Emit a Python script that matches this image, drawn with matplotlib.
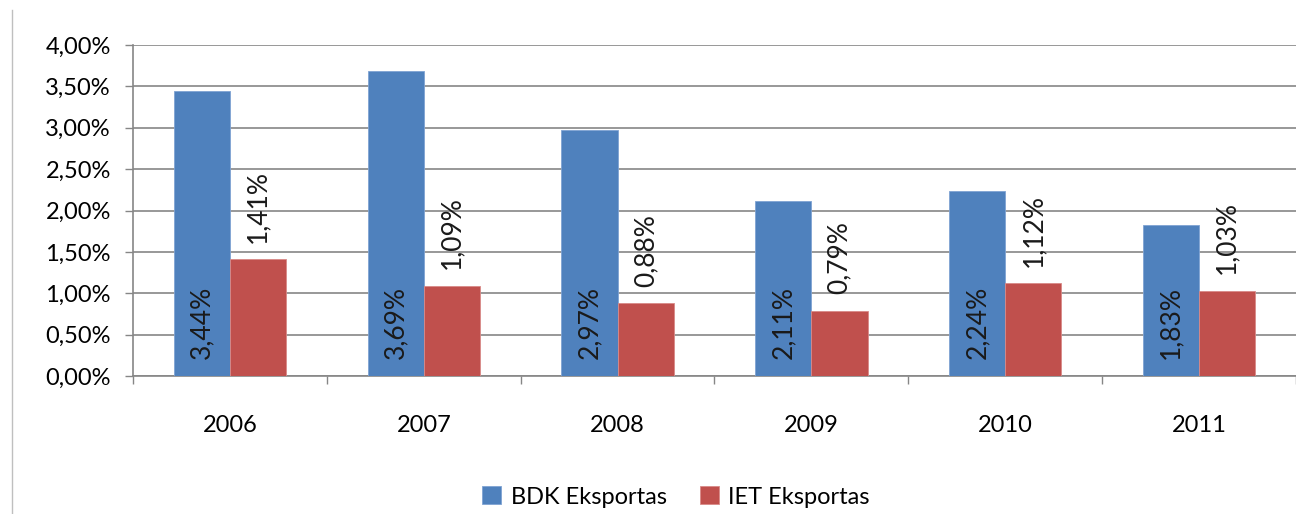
import numpy as np
import matplotlib
matplotlib.use("Agg")
from matplotlib import pyplot as plt
from matplotlib.lines import Line2D

years = ["2006", "2007", "2008", "2009", "2010", "2011"]
bdk = [3.44, 3.69, 2.97, 2.11, 2.24, 1.83]
iet = [1.41, 1.09, 0.88, 0.79, 1.12, 1.03]
series_names = ["BDK Eksportas", "IET Eksportas"]

plt.rcParams["font.family"] = ["Lato", "DejaVu Sans"]
fontsize = 17
label_size = 19
grey = "#868686"

fig = plt.figure(figsize=(12.96, 5.14), dpi=100)
ax = fig.add_axes([133 / 1296, 1 - 376 / 514, 1 - 133 / 1296, (376 - 45) / 514])

x = np.arange(len(years))
w = 0.29
b1 = ax.bar(x - w / 2, bdk, w, color="#4F81BD", edgecolor="#7FA3D3", linewidth=0.6,
            label=series_names[0], zorder=3)
b2 = ax.bar(x + w / 2, iet, w, color="#C0504D", edgecolor="#D98A88", linewidth=0.6,
            label=series_names[1], zorder=3)


def fmt(v):
    return f"{v:.2f}%".replace(".", ",")


for rect, v in zip(b1, bdk):
    ax.annotate(fmt(v), (rect.get_x() + rect.get_width() / 2, 0),
                xytext=(0, 12), textcoords="offset points",
                rotation=90, ha="center", va="bottom", fontsize=label_size, color="#1a1a1a")
for rect, v in zip(b2, iet):
    ax.annotate(fmt(v), (rect.get_x() + rect.get_width() / 2, v),
                xytext=(0, 12), textcoords="offset points",
                rotation=90, ha="center", va="bottom", fontsize=label_size, color="#1a1a1a")

ax.set_xlim(-0.5, len(years) - 0.5)
ax.set_ylim(0, 4)
yt = np.arange(0, 4.01, 0.5)
ax.set_yticks(yt)
ax.set_yticklabels([fmt(v) for v in yt], fontsize=fontsize)
ax.set_xticks(x)
ax.set_xticklabels(years, fontsize=fontsize)
ax.set_xticks(np.arange(-0.5, len(years), 1), minor=True)
ax.tick_params(axis="x", which="major", length=0, pad=28)
ax.tick_params(axis="x", which="minor", length=6, color=grey, width=1)
ax.tick_params(axis="y", length=6, color=grey, width=1, pad=10)

ax.yaxis.grid(True, color=grey, linewidth=1.2, zorder=0)
ax.set_axisbelow(True)
for s in ["top", "right"]:
    ax.spines[s].set_visible(False)
for s in ["left", "bottom"]:
    ax.spines[s].set_color(grey)
    ax.spines[s].set_linewidth(1.2)

fig.legend(handles=[b1, b2], labels=series_names, loc="center",
           bbox_to_anchor=(676 / 1296, 1 - 497 / 514), ncol=2, frameon=False,
           fontsize=fontsize, handlelength=0.8, handleheight=0.8,
           handletextpad=0.4, columnspacing=1.4)

# outer chart border on the left
fig.add_artist(Line2D([12 / 1296, 12 / 1296], [0, 1 - 10 / 514],
                      transform=fig.transFigure, color="#bfbfbf", linewidth=1))

fig.savefig("out.png", dpi=100)
